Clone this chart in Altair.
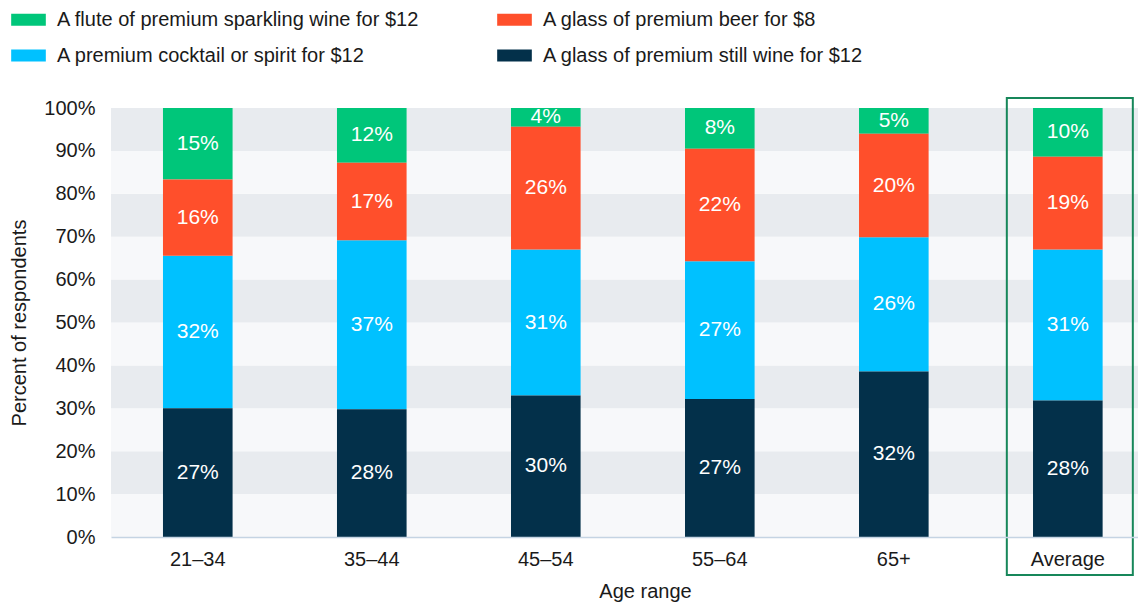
import altair as alt
import pandas as pd

# ---- data ----
ages = ["21–34", "35–44", "45–54", "55–64", "65+", "Average"]
# legend order (column by column)
drinks = [
    "A flute of premium sparkling wine for $12",
    "A premium cocktail or spirit for $12",
    "A glass of premium beer for $8",
    "A glass of premium still wine for $12",
]
sparkling = [15, 12, 4, 8, 5, 10]
cocktail = [32, 37, 31, 27, 26, 31]
beer = [16, 17, 26, 22, 20, 19]
still_wine = [27, 28, 30, 27, 32, 28]
stack_order = [3, 1, 2, 0]  # 0 = bottom of the stack
colors = ["#00C67A", "#00C1FF", "#FF4F2B", "#03304A"]
y_ticks = [0.0, 0.1, 0.2, 0.3, 0.4, 0.5, 0.6, 0.7, 0.8, 0.9, 1.0]
highlight = "Average"

series = [sparkling, cocktail, beer, still_wine]
rows = []
for drink, vals, o in zip(drinks, series, stack_order):
    for age, v in zip(ages, vals):
        rows.append({"age": age, "drink": drink, "value": v, "order": o})
df = pd.DataFrame(rows)

bands = pd.DataFrame({"y0": y_ticks[:-1], "y1": y_ticks[1:], "i": list(range(len(y_ticks) - 1))})

W, H = 1027, 429
TXT = "#1a1a1a"

yscale = alt.Scale(domain=[0, 1], nice=False)
y_axis = alt.Axis(
    title="Percent of respondents", values=y_ticks, format=".0%", ticks=False, tickSize=0,
    domain=False, grid=False, labelPadding=16, titlePadding=14,
)
x_enc = alt.X(
    "age:N", sort=ages,
    scale=alt.Scale(paddingInner=0.6, paddingOuter=0.251, align=0.595),
    axis=alt.Axis(
        title="Age range", labelAngle=0, ticks=False, tickSize=0, labelPadding=12,
        titlePadding=12, titleX=534, domainColor="#C5D4E3", domainWidth=1.5, zindex=1,
    ),
)

band_layer = alt.Chart(bands).transform_calculate(
    shade="datum.i % 2 == 1 ? '#E8EBEF' : '#F7F8FA'"
).mark_rect().encode(
    y=alt.Y("y0:Q", scale=yscale, axis=y_axis),
    y2="y1:Q",
    x=alt.value(0),
    x2=alt.value("width"),
    fill=alt.Fill("shade:N", scale=None, legend=None),
)

bars = alt.Chart(df).mark_bar().encode(
    x=x_enc,
    y=alt.Y("value:Q", stack="normalize", scale=yscale, axis=y_axis),
    color=alt.Color(
        "drink:N",
        scale=alt.Scale(domain=drinks, range=colors),
        legend=alt.Legend(
            title=None, orient="none", legendX=-100, legendY=-106, columns=2,
            symbolType="M-1,-0.34H1V0.34H-1Z", symbolSize=1200, symbolStrokeWidth=0,
            labelFontSize=20, labelOffset=11, columnPadding=77, rowPadding=8,
            labelLimit=600, padding=0, labelColor=TXT,
        ),
    ),
    order=alt.Order("order:Q", sort="ascending"),
)

labels = alt.Chart(df).transform_stack(
    stack="value", groupby=["age"], as_=["s0", "s1"], offset="normalize",
    sort=[alt.SortField("order", order="ascending")],
).transform_calculate(
    ymid="(datum.s0 + datum.s1) / 2", label="datum.value + '%'"
).mark_text(color="white", fontSize=21, baseline="middle").encode(
    x=x_enc,
    y=alt.Y("ymid:Q", scale=yscale, axis=y_axis),
    text="label:N",
)

box = alt.Chart(pd.DataFrame({"age": [highlight]})).mark_bar(
    width=126, fillOpacity=0, stroke="#17875A", strokeWidth=2, xOffset=2
).encode(
    x=x_enc,
    y=alt.value(-10),
    y2=alt.value(H + 38),
)

chart = alt.layer(band_layer, bars, labels, box).properties(
    width=W, height=H,
    autosize=alt.AutoSizeParams(type="none"),
    padding={"left": 103, "top": 100, "right": 0, "bottom": 68},
).configure(font="Liberation Sans").configure_view(strokeWidth=0).configure_axis(
    labelColor=TXT, titleColor=TXT, labelFontSize=20, titleFontSize=20, titleFontWeight="normal"
)

chart.save("out.html", embed_options={"renderer": "svg", "actions": False})
